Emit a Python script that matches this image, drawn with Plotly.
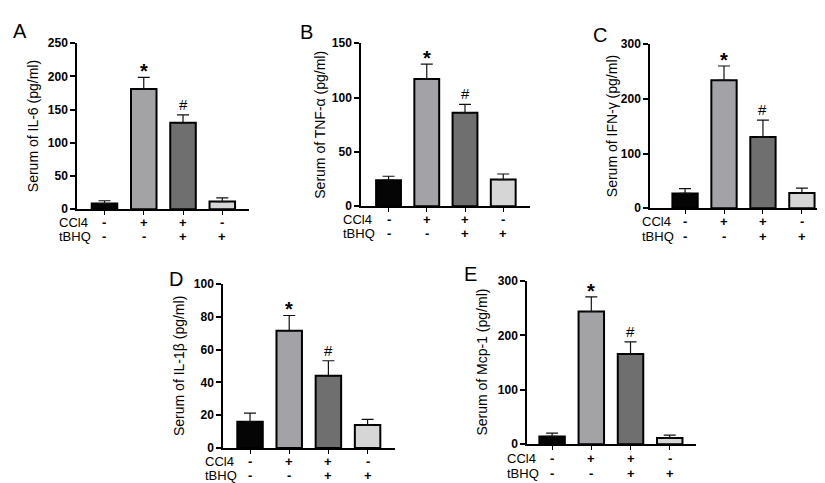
import plotly.graph_objects as go

W, H = 825, 483

groups = ["G1", "G2", "G3", "G4"]
ccl4_signs = ["-", "+", "+", "-"]
tbhq_signs = ["-", "-", "+", "+"]
bar_colors = ["#050505", "#a2a2a7", "#6f6f6f", "#d6d6d6"]

il6_mean = [8.5, 181, 130, 11.5]
il6_err = [4.2, 17.5, 12, 5.5]
tnf_mean = [24, 117, 86, 24.6]
tnf_err = [3.6, 13.7, 7.8, 5.1]
ifn_mean = [27, 234, 130, 27.8]
ifn_err = [9, 26, 31, 9]
il1b_mean = [16, 71.5, 44, 14]
il1b_err = [5.3, 9.3, 9.2, 3.5]
mcp_mean = [14.3, 244, 166, 11.3]
mcp_err = [6, 27, 22, 5.3]

panels = [
    dict(letter="A", title="Serum of IL-6 (pg/ml)", mean=il6_mean, err=il6_err, ymax=250, dtick=50,
         box=(69, 241, 29, 200), xr=(-0.70, 3.68), letter_xy=(12, 16), title_x=25,
         lab_x=49, lab_dy=(14, 28)),
    dict(letter="B", title="Serum of TNF-α (pg/ml)", mean=tnf_mean, err=tnf_err, ymax=150, dtick=50,
         box=(353, 522, 29, 197), xr=(-0.72, 3.70), letter_xy=(298, 18), title_x=312,
         lab_x=333, lab_dy=(14, 28)),
    dict(letter="C", title="Serum of IFN-γ (pg/ml)", mean=ifn_mean, err=ifn_err, ymax=300, dtick=100,
         box=(642, 820, 30, 199), xr=(-0.90, 3.67), letter_xy=(592, 21), title_x=604,
         lab_x=632, lab_dy=(14, 29)),
    dict(letter="D", title="Serum of IL-1β (pg/ml)", mean=il1b_mean, err=il1b_err, ymax=100, dtick=20,
         box=(215, 387, 277, 446), xr=(-0.69, 3.70), letter_xy=(168, 272), title_x=171,
         lab_x=195, lab_dy=(14, 28)),
    dict(letter="E", title="Serum of Mcp-1 (pg/ml)", mean=mcp_mean, err=mcp_err, ymax=300, dtick=100,
         box=(519, 688, 274, 442), xr=(-0.64, 3.67), letter_xy=(462, 267), title_x=474,
         lab_x=497, lab_dy=(15, 30)),
]

fig = go.Figure()
annotations = []
layout_axes = {}


def px(x):
    return x / W


def py(y):
    return 1 - y / H


FONT = "Arial, Liberation Sans, sans-serif"

for i, p in enumerate(panels):
    n = i + 1
    xa = "x" if n == 1 else f"x{n}"
    ya = "y" if n == 1 else f"y{n}"
    xkey = "xaxis" if n == 1 else f"xaxis{n}"
    ykey = "yaxis" if n == 1 else f"yaxis{n}"
    x0, x1, y0, y1 = p["box"]
    fig.add_trace(go.Bar(
        x=list(range(len(groups))), y=p["mean"],
        marker=dict(color=bar_colors, line=dict(color="#000000", width=2)),
        width=0.65,
        error_y=dict(type="data", array=p["err"], arrayminus=[0] * 4, symmetric=False,
                     color="#111111", thickness=1.2, width=6),
        xaxis=xa, yaxis=ya, showlegend=False,
    ))
    layout_axes[xkey] = dict(
        domain=[px(x0), px(x1)], anchor=ya, range=list(p["xr"]),
        showgrid=False, zeroline=False, showline=True, linecolor="#000", linewidth=1.5,
        tickmode="array", tickvals=list(range(4)), ticktext=[""] * 4,
        ticks="outside", ticklen=4, tickwidth=1.2, tickcolor="#000", fixedrange=True,
    )
    layout_axes[ykey] = dict(
        domain=[py(y1), py(y0)], anchor=xa, range=[0, p["ymax"]], dtick=p["dtick"],
        showgrid=False, zeroline=False, showline=True, linecolor="#000", linewidth=1.5,
        ticks="outside", ticklen=5, tickwidth=1.5, tickcolor="#000",
        tickfont=dict(family=FONT, size=12, color="#000", weight="bold"),
        fixedrange=True,
    )
    # panel letter
    lx, ly = p["letter_xy"]
    annotations.append(dict(text=p["letter"], x=px(lx), y=py(ly), xref="paper", yref="paper",
                            showarrow=False, font=dict(family=FONT, size=20, color="#000"),
                            xanchor="center", yanchor="middle"))
    # y title
    annotations.append(dict(text=p["title"], x=px(p["title_x"]), y=py((y0 + y1) / 2),
                            xref="paper", yref="paper", textangle=-90, showarrow=False,
                            font=dict(family=FONT, size=14, color="#000"),
                            xanchor="center", yanchor="middle"))
    # row labels
    for lbl, dy in zip(["CCl4", "tBHQ"], p["lab_dy"]):
        annotations.append(dict(text=lbl, x=px(p["lab_x"]), y=py(y1 + dy), xref="paper", yref="paper",
                                showarrow=False, font=dict(family=FONT, size=13, color="#000"),
                                xanchor="left", yanchor="middle"))
    for j in range(4):
        for signs, dy in zip([ccl4_signs, tbhq_signs], p["lab_dy"]):
            annotations.append(dict(text=signs[j], x=j, y=py(y1 + dy), xref=xa, yref="paper",
                                    showarrow=False,
                                    font=dict(family=FONT, size=13, color="#000", weight="bold"),
                                    xanchor="center", yanchor="middle"))
    # significance marks
    annotations.append(dict(text="*", x=1, y=p["mean"][1] + p["err"][1], xref=xa, yref=ya,
                            showarrow=False,
                            font=dict(family=FONT, size=20, color="#000", weight="bold"),
                            xanchor="center", yanchor="bottom", yshift=-7))
    annotations.append(dict(text="#", x=2, y=p["mean"][2] + p["err"][2], xref=xa, yref=ya,
                            showarrow=False, font=dict(family=FONT, size=15, color="#000"),
                            xanchor="center", yanchor="bottom", yshift=0))

fig.update_layout(
    width=W, height=H, margin=dict(l=0, r=0, t=0, b=0),
    paper_bgcolor="white", plot_bgcolor="white",
    annotations=annotations, bargap=0.35, **layout_axes,
)

fig.write_html("out.html")
